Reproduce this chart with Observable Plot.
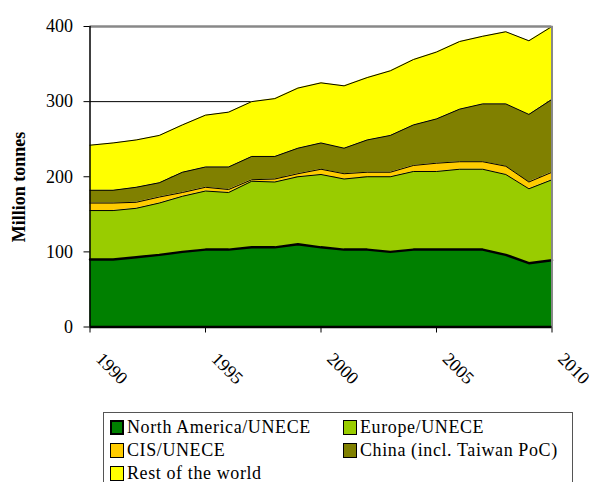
<!DOCTYPE html>
<html><head><meta charset="utf-8">
<script src="https://cdn.jsdelivr.net/npm/d3@7"></script>
<script src="https://cdn.jsdelivr.net/npm/@observablehq/plot@0.6"></script>
<style>
body{margin:0;background:#fff;font-family:"Liberation Serif",serif;}
#wrap{position:relative;width:596px;height:482px;overflow:hidden;background:#fff}
#legend{position:absolute;left:103px;top:412px;width:470px;height:90px;border:1px solid #555;box-sizing:border-box;background:#fff}
.item{position:absolute;display:flex;align-items:center;font-size:18px;white-space:nowrap;line-height:1;height:20px;color:#000;letter-spacing:0.6px}
.sw{width:12px;height:13px;border:1px solid #000;margin-right:3px;flex:none}
#ytitle{position:absolute;left:19px;top:186.5px;transform:translate(-50%,-50%) rotate(-90deg);font-weight:bold;font-size:18px;white-space:nowrap;line-height:1;color:#000}
</style></head>
<body><div id="wrap"><div id="chart"></div><div id="ytitle"></div><div id="legend"></div></div>
<script>
const years = [1990,1991,1992,1993,1994,1995,1996,1997,1998,1999,2000,2001,2002,2003,2004,2005,2006,2007,2008,2009,2010];
const northAmerica = [90,90,93,96,100,103,103,106,106,110,106,103,103,100,103,103,103,103,96,85,89];
const europe       = [65,65,65,69,74,78,76,88,87,90,97,94,97,100,104,104,107,107,107,99,107];
const cis          = [10,10,8,8,5,5,4,2,4,4,7,7,6,6,8,11,10,10,11,9,10];
const china        = [17,17,20,19,27,27,30,31,30,34,35,34,43,49,54,59,70,77,83,90,97];
const restOfWorld  = [60,63,63,63,63,69,73,73,77,80,80,83,83,86,87,89,90,90,96,98,97];
const seriesNames  = ["North America/UNECE","Europe/UNECE","CIS/UNECE","China (incl. Taiwan PoC)","Rest of the world"];
const seriesColors = ["#008000","#99CC00","#FFCC00","#808000","#FFFF00"];
const xTicks = [1990,1995,2000,2005,2010];
const yTicks = [0,100,200,300,400];
const gridValues = [100,200,300];
const yTitle = "Million tonnes";

const seriesValues = [northAmerica, europe, cis, china, restOfWorld];
const table = [];
seriesNames.forEach((name,i)=>{
  years.forEach((yr,j)=>table.push({year:yr, series:name, value:seriesValues[i][j]}));
});

const plot = Plot.plot({
  width:596, height:405,
  marginTop:26, marginBottom:78.5, marginLeft:89.5, marginRight:44.5,
  style:{fontFamily:"Liberation Serif, serif", fontSize:"18px", background:"white", color:"#000", overflow:"visible"},
  x:{domain:[1990,2010], label:null},
  y:{domain:[0,400], label:null},
  color:{domain:seriesNames, range:seriesColors},
  marks:[
    Plot.ruleY(gridValues, {stroke:"#000", strokeWidth:1}),
    Plot.areaY(table, {x:"year", y:"value", z:"series", fill:"series", order:seriesNames}),
    Plot.lineY(table, Plot.stackY2({x:"year", y:"value", z:"series", order:seriesNames, stroke:"#000",
      strokeWidth:d => d.series === seriesNames[0] ? 2.5 : 1})),
    Plot.ruleY([400], {stroke:"#888", strokeWidth:2.5}),
    Plot.ruleX([2010], {stroke:"#888", strokeWidth:2}),
    Plot.ruleX([1990], {stroke:"#000", strokeWidth:1.5}),
    Plot.ruleY([0], {stroke:"#000", strokeWidth:2.5}),
    Plot.axisY({ticks:yTicks, tickSize:6, tickPadding:11, fontSize:18, label:null, tickFormat:d=>String(d)}),
    Plot.axisX({ticks:xTicks, tickSize:6, tickFormat:()=>"", label:null}),
    Plot.text(xTicks, {x:d=>d, frameAnchor:"bottom", dx:5, dy:33, rotate:45, textAnchor:"start", fontSize:18, text:d=>String(d)})
  ]
});
document.getElementById("chart").appendChild(plot);
document.getElementById("ytitle").textContent = yTitle;

const legend = document.getElementById("legend");
const pos = [[6,4],[239,4],[6,27],[239,27],[6,50]];
const legendOrder = [0,1,2,3,4];
legendOrder.forEach((i,k)=>{
  const it = document.createElement("div");
  it.className = "item";
  it.style.left = pos[k][0]+"px";
  it.style.top = pos[k][1]+"px";
  const sw = document.createElement("span");
  sw.className = "sw";
  sw.style.background = seriesColors[i];
  if (i === 0) { sw.style.borderWidth = "2px"; sw.style.width = "10px"; sw.style.height = "11px"; }
  const tx = document.createElement("span");
  tx.textContent = seriesNames[i];
  it.appendChild(sw); it.appendChild(tx);
  legend.appendChild(it);
});
</script>
</body></html>
